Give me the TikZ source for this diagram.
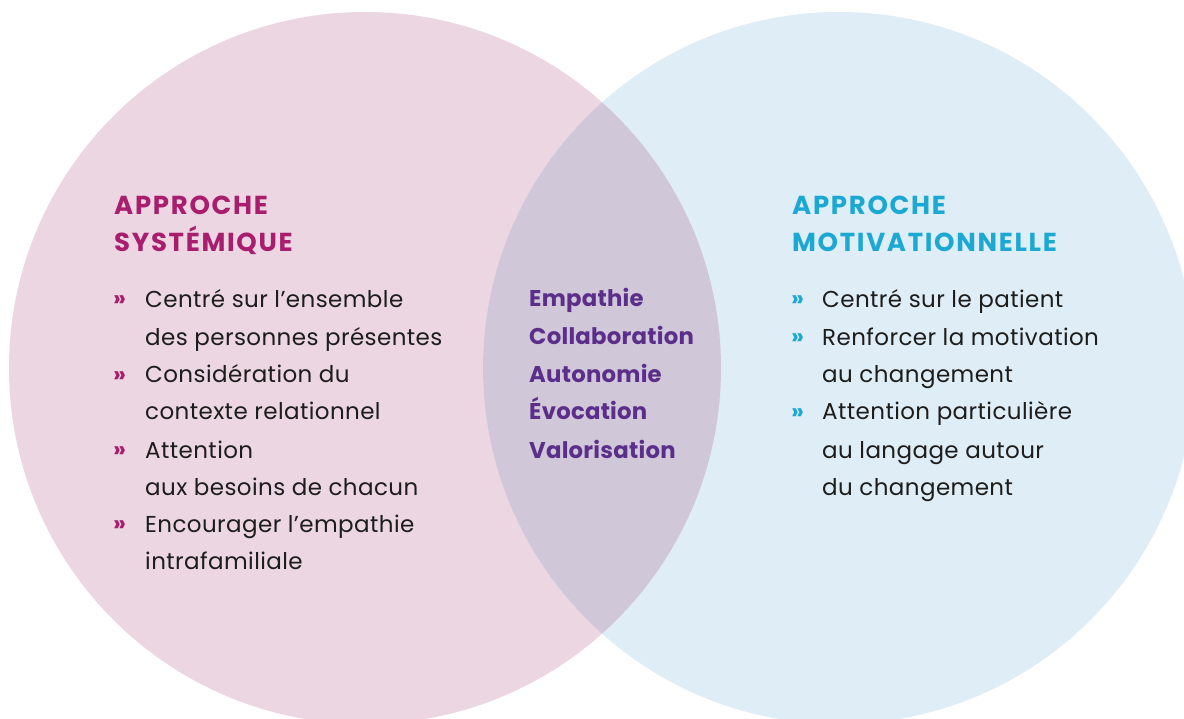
\documentclass[tikz,border=0pt]{standalone}
\usepackage{fontspec}
\setmainfont{Poppins}
\newfontfamily\ttlfont[LetterSpace=6.5]{Poppins}
\newfontfamily\bodyfont[LetterSpace=1.8]{Poppins}
\newfontfamily\midfont[LetterSpace=1]{Poppins}
\definecolor{pinkfill}{HTML}{EBD6E2}
\definecolor{bluefill}{HTML}{DFEDF7}
\definecolor{lensfill}{HTML}{D0C7D9}
\definecolor{magentatxt}{HTML}{A81D6E}
\definecolor{cyantxt}{HTML}{1BA9D3}
\definecolor{purpletxt}{HTML}{5B2E8A}
\definecolor{bodytxt}{HTML}{1D1D1B}
\begin{document}
\begin{tikzpicture}[x=1pt,y=-1pt,
  body/.style={anchor=base west,inner sep=0pt,text=bodytxt,font=\bodyfont\fontsize{23}{26}\selectfont},
  ttl/.style={anchor=base west,inner sep=0pt,font=\ttlfont\fontsize{26}{28}\selectfont\bfseries},
  mid/.style={anchor=base west,inner sep=0pt,text=purpletxt,font=\midfont\fontsize{22.8}{26}\selectfont\bfseries},
  bul/.style={anchor=base west,inner sep=0pt,font=\fontsize{23}{24}\selectfont\bfseries}]
\useasboundingbox (0,0) rectangle (1184,719);
\fill[white] (0,0) rectangle (1184,719);
\coordinate (cl) at (365,368);
\coordinate (cr) at (839,368);
\fill[pinkfill] (cl) circle[radius=356];
\fill[bluefill] (cr) circle[radius=356];
\begin{scope}
  \clip (cl) circle[radius=356];
  \fill[lensfill] (cr) circle[radius=356];
\end{scope}
% left
\node[ttl,text=magentatxt] (lt1) at (114,215) {APPROCHE};
\node[ttl,text=magentatxt] (lt2) at (114,252) {SYSTÉMIQUE};
\node[bul,text=magentatxt] (lb1) at (113,307) {»};
\node[body] (l1) at (145,308) {Centré sur l’ensemble};
\node[body] (l2) at (145,346) {des personnes présentes};
\node[bul,text=magentatxt] (lb2) at (113,382) {»};
\node[body] (l3) at (145,383) {Considération du};
\node[body] (l4) at (145,420) {contexte relationnel};
\node[bul,text=magentatxt] (lb3) at (113,457) {»};
\node[body] (l5) at (145,458) {Attention};
\node[body] (l6) at (145,495) {aux besoins de chacun};
\node[bul,text=magentatxt] (lb4) at (113,531) {»};
\node[body] (l7) at (145,532) {Encourager l’empathie};
\node[body] (l8) at (145,569) {intrafamiliale};
% middle
\node[mid] (m1) at (529,307) {Empathie};
\node[mid] (m2) at (529,345) {Collaboration};
\node[mid] (m3) at (529,382) {Autonomie};
\node[mid] (m4) at (529,420) {Évocation};
\node[mid] (m5) at (529,458) {Valorisation};
% right
\node[ttl,text=cyantxt] (rt1) at (792,215) {APPROCHE};
\node[ttl,text=cyantxt] (rt2) at (792,252) {MOTIVATIONNELLE};
\node[bul,text=cyantxt] (rb1) at (791,307) {»};
\node[body] (r1) at (822,308) {Centré sur le patient};
\node[bul,text=cyantxt] (rb2) at (791,345) {»};
\node[body] (r2) at (822,346) {Renforcer la motivation};
\node[body] (r3) at (822,383) {au changement};
\node[bul,text=cyantxt] (rb3) at (791,419) {»};
\node[body] (r4) at (822,420) {Attention particulière};
\node[body] (r5) at (822,458) {au langage autour};
\node[body] (r6) at (822,495) {du changement};
\end{tikzpicture}
\end{document}
